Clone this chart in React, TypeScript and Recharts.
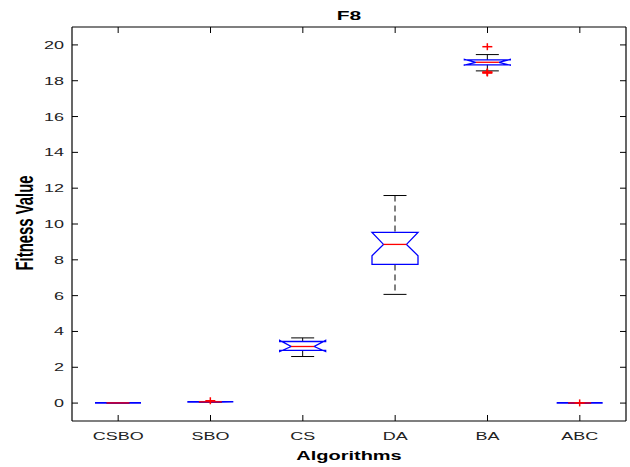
import React from 'react';
import { ComposedChart, Bar, XAxis, YAxis } from 'recharts';

const categories = ['CSBO', 'SBO', 'CS', 'DA', 'BA', 'ABC'];
const whiskerLow = [0.0, 0.05, 2.6, 6.07, 18.55, 0.0];
const quartile1 = [0.0, 0.06, 2.94, 7.74, 18.89, 0.0];
const medians = [0.01, 0.07, 3.16, 8.86, 19.03, 0.01];
const quartile3 = [0.02, 0.08, 3.44, 9.53, 19.16, 0.02];
const whiskerHigh = [0.02, 0.09, 3.64, 11.59, 19.46, 0.02];
const notchLow = [0.0, 0.06, 2.88, 8.23, 18.87, 0.0];
const notchHigh = [0.02, 0.08, 3.5, 9.53, 19.19, 0.02];
const outliers: number[][] = [[], [0.13], [], [], [19.9, 18.46, 18.43, 18.49], [0.01]];
const yTicks = [0, 2, 4, 6, 8, 10, 12, 14, 16, 18, 20];
const yDomain = [-1, 21];

const data = categories.map((name, i) => {
  const all = [whiskerLow[i], whiskerHigh[i], ...outliers[i]];
  return {
    name,
    wl: whiskerLow[i],
    q1: quartile1[i],
    med: medians[i],
    q3: quartile3[i],
    wh: whiskerHigh[i],
    nlo: notchLow[i],
    nhi: notchHigh[i],
    out: outliers[i],
    lo: Math.min(...all),
    hi: Math.max(...all),
  };
});

const FONT = '"Liberation Sans", Arial, Helvetica, sans-serif';
const SQ = 0.62;

const BoxShape = (props: any) => {
  const { x, y, width, height, payload } = props;
  if (!payload) return null;
  const top = Math.min(y, y + height);
  const h = Math.abs(height);
  const { lo, hi } = payload;
  const px = (v: number) => (hi === lo ? top : top + (h * (hi - v)) / (hi - lo));
  const cx = x + width / 2;
  const bw = width * 0.5;
  const L = cx - bw / 2;
  const R = cx + bw / 2;
  const inset = bw * 0.25;
  const capHalf = bw / 4;
  const pts = [
    [L, px(payload.q1)],
    [L, px(payload.nlo)],
    [L + inset, px(payload.med)],
    [L, px(payload.nhi)],
    [L, px(payload.q3)],
    [R, px(payload.q3)],
    [R, px(payload.nhi)],
    [R - inset, px(payload.med)],
    [R, px(payload.nlo)],
    [R, px(payload.q1)],
  ]
    .map((p) => p.join(','))
    .join(' ');
  return (
    <g>
      <line x1={cx} x2={cx} y1={px(payload.wh)} y2={px(payload.q3)} stroke="#000" strokeWidth={1} strokeDasharray="6 4" />
      <line x1={cx} x2={cx} y1={px(payload.q1)} y2={px(payload.wl)} stroke="#000" strokeWidth={1} strokeDasharray="6 4" />
      <line x1={cx - capHalf} x2={cx + capHalf} y1={px(payload.wh)} y2={px(payload.wh)} stroke="#000" strokeWidth={1} />
      <line x1={cx - capHalf} x2={cx + capHalf} y1={px(payload.wl)} y2={px(payload.wl)} stroke="#000" strokeWidth={1} />
      <polygon points={pts} fill="none" stroke="#0000ff" strokeWidth={1.3} />
      <line x1={L + inset} x2={R - inset} y1={px(payload.med)} y2={px(payload.med)} stroke="#ff0000" strokeWidth={1.3} />
      {payload.out.map((v: number, k: number) => (
        <g key={k}>
          <line x1={cx - 5} x2={cx + 5} y1={px(v)} y2={px(v)} stroke="#ff0000" strokeWidth={1.5} />
          <line x1={cx} x2={cx} y1={px(v) - 3.5} y2={px(v) + 3.5} stroke="#ff0000" strokeWidth={1.5} />
        </g>
      ))}
    </g>
  );
};

const LeftTick = (props: any) => {
  const { x, y, payload } = props;
  return (
    <g>
      <line x1={x} x2={x + 6} y1={y} y2={y} stroke="#000" strokeWidth={1} />
      <text
        transform={`translate(${x - 8},${y + 4}) scale(1,${SQ})`}
        textAnchor="end"
        fontFamily={FONT}
        fontSize={18}
        fill="#222"
      >
        {payload.value}
      </text>
    </g>
  );
};

const RightTick = (props: any) => {
  const { x, y } = props;
  return <line x1={x - 6} x2={x} y1={y} y2={y} stroke="#000" strokeWidth={1} />;
};

const BottomTick = (props: any) => {
  const { x, y, payload } = props;
  return (
    <g>
      <line x1={x} x2={x} y1={y - 6} y2={y} stroke="#000" strokeWidth={1} />
      <text
        transform={`translate(${x},${y + 19}) scale(1,${SQ})`}
        textAnchor="middle"
        fontFamily={FONT}
        fontSize={18}
        fill="#222"
      >
        {payload.value}
      </text>
    </g>
  );
};

const TopTick = (props: any) => {
  const { x, y } = props;
  return <line x1={x} x2={x} y1={y} y2={y + 6} stroke="#000" strokeWidth={1} />;
};

export default function App() {
  return (
    <div style={{ position: 'absolute', left: 0, top: 0, width: 630, height: 467, background: '#fff' }}>
      <ComposedChart
        width={630}
        height={467}
        data={data}
        margin={{ top: 0, right: 0, bottom: 0, left: 0 }}
        barCategoryGap={0}
      >
        <XAxis
          dataKey="name"
          xAxisId="b"
          orientation="bottom"
          height={46}
          tickSize={0}
          tickMargin={0}
          tickLine={false}
          axisLine={{ stroke: '#000', strokeWidth: 1.2 }}
          tick={<BottomTick />}
          interval={0}
        />
        <XAxis
          dataKey="name"
          xAxisId="t"
          orientation="top"
          height={27}
          tickSize={0}
          tickMargin={0}
          tickLine={false}
          axisLine={{ stroke: '#000', strokeWidth: 1.2 }}
          tick={<TopTick />}
          interval={0}
        />
        <YAxis
          yAxisId="l"
          orientation="left"
          width={72}
          domain={yDomain}
          ticks={yTicks}
          type="number"
          allowDataOverflow
          tickSize={0}
          tickMargin={0}
          tickLine={false}
          axisLine={{ stroke: '#000', strokeWidth: 1.2 }}
          tick={<LeftTick />}
          interval={0}
        />
        <YAxis
          yAxisId="r"
          orientation="right"
          width={4}
          domain={yDomain}
          ticks={yTicks}
          type="number"
          allowDataOverflow
          tickSize={0}
          tickMargin={0}
          tickLine={false}
          axisLine={{ stroke: '#000', strokeWidth: 1.2 }}
          tick={<RightTick />}
          interval={0}
        />
        <Bar
          xAxisId="b"
          yAxisId="l"
          dataKey={(d: any) => [d.lo, d.hi]}
          isAnimationActive={false}
          shape={<BoxShape />}
          activeBar={false}
        />
        <text
          transform={`translate(349,20) scale(1,${SQ})`}
          textAnchor="middle"
          fontFamily={FONT}
          fontSize={21}
          fontWeight="bold"
          fill="#000"
        >
          F8
        </text>
        <text
          transform={`translate(349,460) scale(1,${SQ})`}
          textAnchor="middle"
          fontFamily={FONT}
          fontSize={20}
          fontWeight="bold"
          fill="#000"
        >
          Algorithms
        </text>
        <text
          transform={`translate(33,223) rotate(-90) scale(0.62,1)`}
          textAnchor="middle"
          fontFamily={FONT}
          fontSize={24}
          fontWeight="bold"
          fill="#000"
        >
          Fitness Value
        </text>
      </ComposedChart>
    </div>
  );
}
